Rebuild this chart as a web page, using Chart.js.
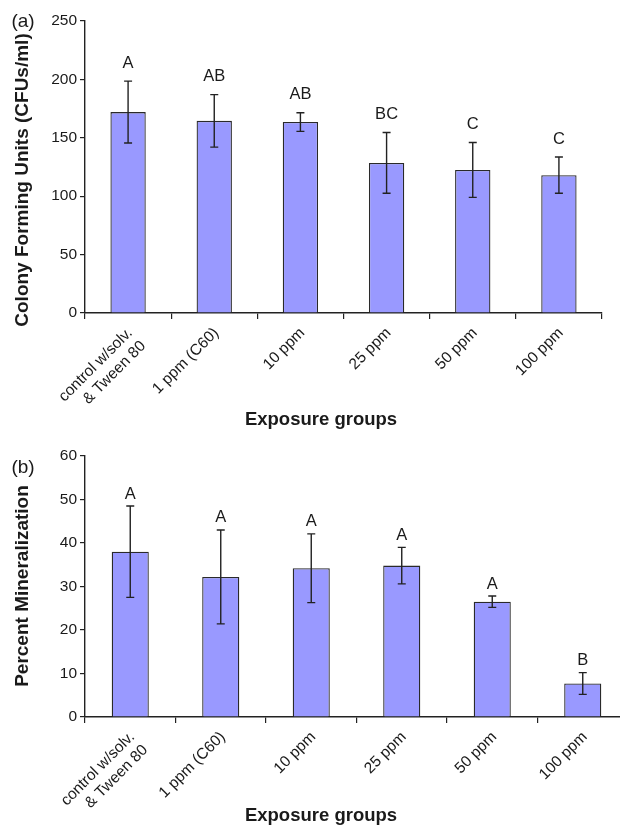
<!DOCTYPE html>
<html>
<head>
<meta charset="utf-8">
<script src="https://cdn.jsdelivr.net/npm/chart.js@4.4.1/dist/chart.umd.min.js"></script>
<style>
  html, body { margin: 0; padding: 0; background: #fff; }
  body { width: 620px; height: 825px; overflow: hidden; position: relative; }
  #boxA { position: absolute; left: 0; top: 0; width: 620px; height: 440px; }
  #boxB { position: absolute; left: 0; top: 435px; width: 650px; height: 390px; }
</style>
</head>
<body>
<div id="boxA"><canvas id="chartA"></canvas></div>
<div id="boxB"><canvas id="chartB"></canvas></div>
<script>
// categories (same for both panels)
const groups = [["control w/solv.", "& Tween 80"], "1 ppm (C60)", "10 ppm", "25 ppm", "50 ppm", "100 ppm"];

// panel (a): colony forming units
const cfuMean = [172, 164.5, 163.5, 128.5, 122.5, 118];
const cfuErr = [26.5, 22.5, 8, 26, 23.5, 15.5];
const cfuLetters = ["A", "AB", "AB", "BC", "C", "C"];
const cfuMax = 250, cfuStep = 50;

// panel (b): percent mineralization
const minMean = [38, 32.2, 34.2, 34.8, 26.5, 7.7];
const minErr = [10.5, 10.8, 7.9, 4.2, 1.3, 2.5];
const minLetters = ["A", "A", "A", "A", "A", "B"];
const minMax = 60, minStep = 10;

const FONT = "'Liberation Sans', Arial, sans-serif";
const INK = "#1a1a1a";

// draws error bars, letters and the text around the plot
const extras = {
  id: "extras",
  afterDatasetsDraw(chart, args, o) {
    const ctx = chart.ctx;
    const x = chart.scales.x, y = chart.scales.y;
    ctx.save();
    ctx.strokeStyle = "#222";
    ctx.lineWidth = 1.4;
    o.mean.forEach((m, i) => {
      const cx = x.getPixelForValue(i);
      const top = y.getPixelForValue(m + o.err[i]);
      const bot = y.getPixelForValue(m - o.err[i]);
      ctx.beginPath();
      ctx.moveTo(cx, top); ctx.lineTo(cx, bot);
      ctx.moveTo(cx - 4, top); ctx.lineTo(cx + 4, top);
      ctx.moveTo(cx - 4, bot); ctx.lineTo(cx + 4, bot);
      ctx.stroke();
      ctx.fillStyle = INK;
      ctx.font = "16.5px " + FONT;
      ctx.textAlign = "center";
      ctx.textBaseline = "middle";
      ctx.fillText(o.letters[i], cx, top - o.letterGap);
    });

    // panel tag
    ctx.font = "19px " + FONT;
    ctx.textAlign = "center";
    ctx.textBaseline = "middle";
    ctx.fillText(o.tag, 23, o.tagY);

    // axis titles
    ctx.font = "bold 18.5px " + FONT;
    ctx.textBaseline = "alphabetic";
    ctx.fillText("Exposure groups", 321, o.xTitleY);
    ctx.save();
    ctx.translate(23, o.yTitleY);
    ctx.rotate(-Math.PI / 2);
    ctx.font = "bold 19px " + FONT;
    ctx.textBaseline = "middle";
    ctx.fillText(o.yTitle, 0, 0);
    ctx.restore();
    ctx.restore();
  }
};

function makeChart(id, mean, err, letters, yMax, yStep, xHeight, padRight, extra) {
  return new Chart(document.getElementById(id), {
    type: "bar",
    data: {
      labels: groups,
      datasets: [{
        data: mean,
        backgroundColor: "#9999ff",
        borderColor: "#2a2a2a",
        borderWidth: 1.3,
        barPercentage: 0.41,
        categoryPercentage: 1
      }]
    },
    options: {
      responsive: true,
      maintainAspectRatio: false,
      animation: false,
      devicePixelRatio: 1,
      layout: { padding: { top: 21, right: padRight, left: 0, bottom: 0 } },
      plugins: {
        legend: { display: false },
        tooltip: { enabled: false },
        extras: Object.assign({ mean: mean, err: err, letters: letters }, extra)
      },
      scales: {
        x: {
          offset: true,
          grid: { offset: true, drawOnChartArea: false, tickLength: 6, color: "#222", lineWidth: 1.2 },
          border: { color: "#222", width: 1.4 },
          ticks: {
            autoSkip: false, maxRotation: 45, minRotation: 45, padding: 5, labelOffset: 2,
            color: INK, font: { family: FONT, size: 15.5 }
          },
          afterFit(scale) { scale.height = xHeight; }
        },
        y: {
          min: 0, max: yMax,
          grid: { drawOnChartArea: false, tickLength: 5, color: "#222", lineWidth: 1.2 },
          border: { color: "#222", width: 1.4 },
          ticks: { stepSize: yStep, padding: 3, color: INK, font: { family: FONT, size: 15.5 } },
          afterFit(scale) { scale.width = 85; }
        }
      }
    },
    plugins: [extras]
  });
}

makeChart("chartA", cfuMean, cfuErr, cfuLetters, cfuMax, cfuStep, 127, 18, {
  letterGap: 18, tag: "(a)", tagY: 22, xTitleY: 425, yTitleY: 180,
  yTitle: "Colony Forming Units (CFUs/ml)"
});
makeChart("chartB", minMean, minErr, minLetters, minMax, minStep, 108, 22, {
  letterGap: 12, tag: "(b)", tagY: 33, xTitleY: 386, yTitleY: 151,
  yTitle: "Percent Mineralization"
});
</script>
</body>
</html>
